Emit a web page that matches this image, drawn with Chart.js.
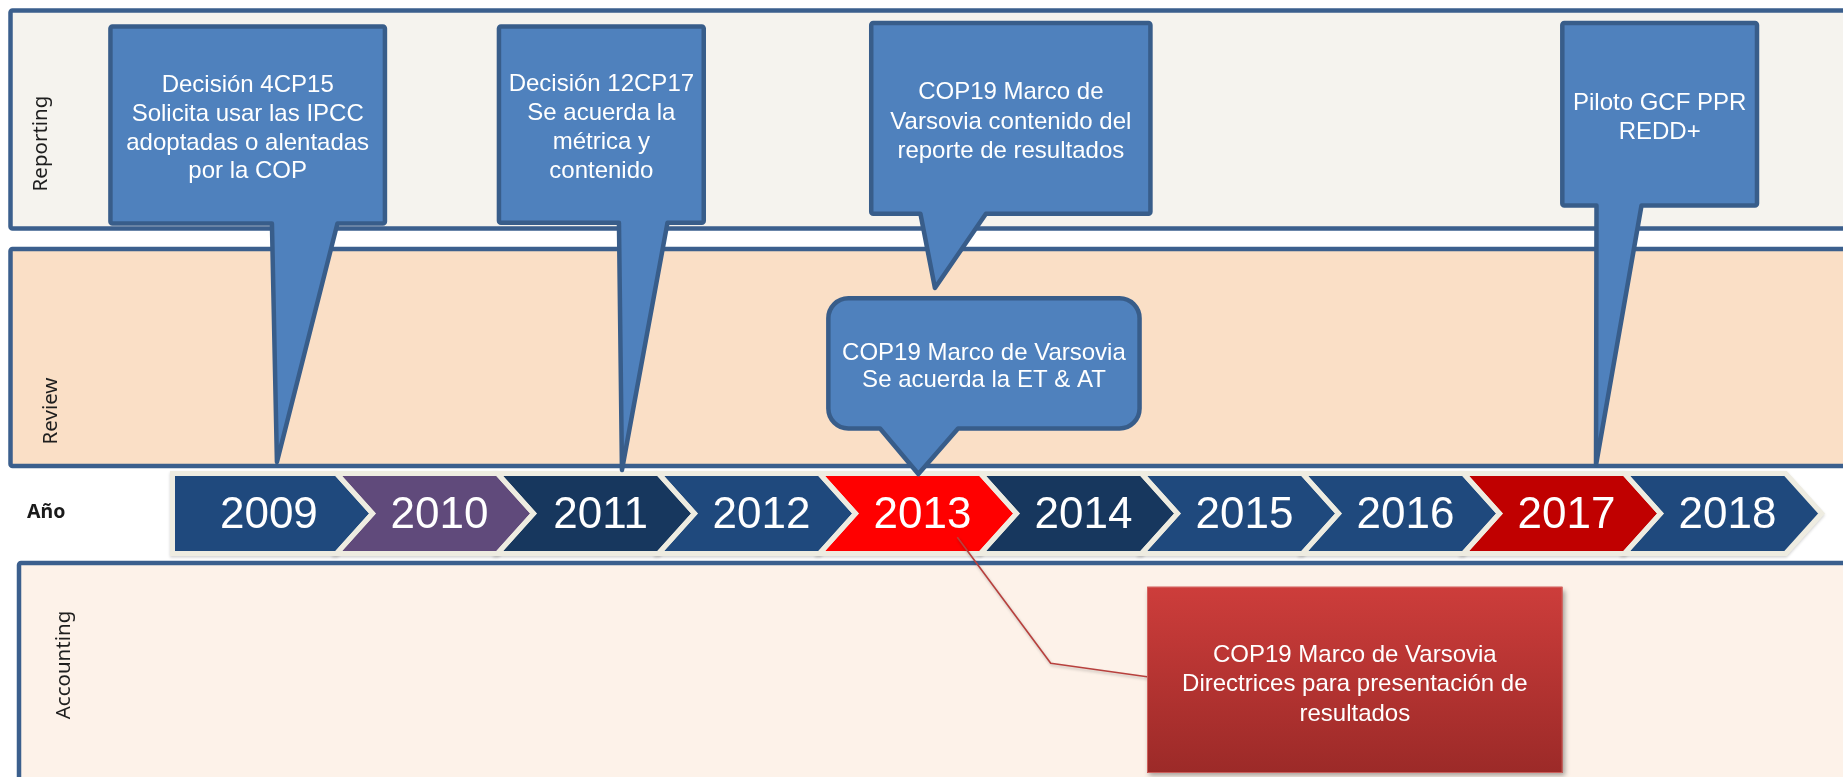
<!DOCTYPE html>
<html><head><meta charset="utf-8">
<script src="https://cdn.jsdelivr.net/npm/chart.js@4/dist/chart.umd.min.js"></script>
<style>html,body{margin:0;padding:0;background:#fff;overflow:hidden}canvas{display:block}</style>
</head><body>
<canvas id="c" width="1843" height="777" style="width:1843px;height:777px"></canvas>
<script>
// ---------- DATA ----------
const years = [2009, 2010, 2011, 2012, 2013, 2014, 2015, 2016, 2017, 2018];
const yearColors = ['#1f497d', '#604a7b', '#17375e', '#1f497d', '#ff0000', '#17375e', '#1f497d', '#1f497d', '#c00000', '#1f497d'];
const laneNames = ['Reporting', 'Review', 'Accounting'];
const rowLabel = 'Año';
const eventYears = [2009.63, 2011.773, 2013.717, 2013.614, 2017.823];
const eventLanes = ['Reporting', 'Reporting', 'Reporting', 'Review', 'Reporting'];
const eventTexts = [
  ['Decisión 4CP15', 'Solicita usar las IPCC', 'adoptadas o alentadas', 'por la COP'],
  ['Decisión 12CP17', 'Se acuerda la', 'métrica y', 'contenido'],
  ['COP19 Marco de', 'Varsovia contenido del', 'reporte de resultados'],
  ['COP19 Marco de Varsovia', 'Se acuerda la ET & AT'],
  ['Piloto GCF PPR', 'REDD+']
];
const accountingYear = 2013.856;
const accountingText = ['COP19 Marco de Varsovia', 'Directrices para presentación de', 'resultados'];

// ---------- LAYOUT / STYLE ----------
const X_MIN = 2009 - 175.5 / 161, X_MAX = 2009 + (1843 - 175.5) / 161;
const bandStyle = {
  Reporting:  {top: 10.5, bottom: 228.5, left: 10.5, fill: '#f5f3ee', labelX: 47,   labelY: 143.5},
  Review:     {top: 249,  bottom: 466,   left: 10.5, fill: '#fadfc6', labelX: 57.3, labelY: 411},
  Accounting: {top: 563,  bottom: 820,   left: 19,   fill: '#fdf2e9', labelX: 69.7, labelY: 665}
};
const chev = {top: 473.5, bottom: 553.5, depth: 36, firstInset: 3, labelOff: 0.64, firstLabelOff: 0.58, baseline: 528};
const calloutLayout = [
  {box: [-166.5, 108], top: 26.5, bottom: 223.5, base: [-5, 60.5], tipY: 462, r: 2, lh: 28.9},
  {box: [-123, 81.8], top: 26.5, bottom: 222.8, base: [-3, 45.5], tipY: 470, r: 2, lh: 28.9},
  {box: [-63.7, 215.5], top: 23, bottom: 213.8, base: [-14.5, 51], tipY: 288, r: 2, lh: 29.1},
  {box: [-90, 221.2], top: 298.3, bottom: 428.5, base: [-38.3, 39.7], tipY: 474, r: 20, lh: 27.5},
  {box: [-33.7, 161], top: 23, bottom: 205.5, base: [0.5, 45.5], tipY: 465, r: 2, lh: 29.5}
];
const accLayout = {startY: 537.3, bend: [93.4, 663.3], box: [189.7, 605.3], top: 586.7, bottom: 773, endY: 676.7, lh: 29.5};

const timelinePlugin = {
  id: 'timeline',
  beforeDatasetsDraw(chart) {
    const ctx = chart.ctx, xs = chart.scales.x, ys = chart.scales.y;
    const X = v => xs.getPixelForValue(v), Y = v => ys.getPixelForValue(v);
    ctx.save();
    // Bands
    laneNames.forEach(n => {
      const b = bandStyle[n];
      ctx.beginPath();
      ctx.roundRect(b.left, Y(b.top), 1900 - b.left, Y(b.bottom) - Y(b.top), 2);
      ctx.fillStyle = b.fill; ctx.fill();
      ctx.lineWidth = 4.5; ctx.strokeStyle = '#3b5f8d'; ctx.stroke();
      ctx.save();
      ctx.translate(b.labelX, Y(b.labelY));
      ctx.rotate(-Math.PI / 2);
      ctx.font = '20.5px "Noto Sans", sans-serif';
      ctx.fillStyle = '#1e1e1e'; ctx.textAlign = 'center'; ctx.textBaseline = 'alphabetic';
      ctx.fillText(n, 0, 0);
      ctx.restore();
    });
    // Row label
    ctx.font = 'bold 19.5px "Noto Sans", sans-serif';
    ctx.fillStyle = '#1a1a1a'; ctx.textAlign = 'left'; ctx.textBaseline = 'alphabetic';
    ctx.fillText(rowLabel, 27, 518.3);

    // Chevrons
    const T = Y(chev.top), B = Y(chev.bottom), M = (T + B) / 2, d = chev.depth;
    const paths = years.map((yr, i) => {
      const L = X(yr), R = X(yr + 1);
      const p = new Path2D();
      if (i === 0) {
        p.moveTo(L - chev.firstInset, T); p.lineTo(R, T); p.lineTo(R + d, M); p.lineTo(R, B); p.lineTo(L - chev.firstInset, B); p.closePath();
      } else {
        p.moveTo(L, T); p.lineTo(R, T); p.lineTo(R + d, M); p.lineTo(R, B); p.lineTo(L, B); p.lineTo(L + d, M); p.closePath();
      }
      return p;
    });
    ctx.save();
    ctx.shadowColor = 'rgba(0,0,0,0.18)'; ctx.shadowBlur = 3; ctx.shadowOffsetY = 1.5;
    paths.forEach((p) => { ctx.fillStyle = '#eeece1'; ctx.lineWidth = 5; ctx.strokeStyle = '#eeece1'; ctx.lineJoin = 'miter'; ctx.stroke(p); });
    ctx.restore();
    paths.forEach((p, i) => { ctx.fillStyle = yearColors[i]; ctx.fill(p); });
    paths.forEach(p => { ctx.lineWidth = 5; ctx.strokeStyle = '#eeece1'; ctx.lineJoin = 'miter'; ctx.stroke(p); });
    ctx.font = '44px "Liberation Sans", Arial, sans-serif';
    ctx.fillStyle = '#ffffff'; ctx.textAlign = 'center'; ctx.textBaseline = 'alphabetic';
    years.forEach((yr, i) => {
      ctx.fillText(String(yr), X(yr + (i === 0 ? chev.firstLabelOff : chev.labelOff)), chev.baseline);
    });

    // Callouts
    eventYears.forEach((ev, k) => {
      const c = calloutLayout[k];
      const tx = X(ev), ty = Y(c.tipY);
      const l = tx + c.box[0], r = tx + c.box[1], t = Y(c.top), b = Y(c.bottom), rr = c.r;
      const bl = tx + c.base[0], br = tx + c.base[1];
      ctx.beginPath();
      ctx.moveTo(l + rr, t);
      ctx.lineTo(r - rr, t); ctx.arcTo(r, t, r, t + rr, rr);
      ctx.lineTo(r, b - rr); ctx.arcTo(r, b, r - rr, b, rr);
      ctx.lineTo(br, b); ctx.lineTo(tx, ty); ctx.lineTo(bl, b);
      ctx.lineTo(l + rr, b); ctx.arcTo(l, b, l, b - rr, rr);
      ctx.lineTo(l, t + rr); ctx.arcTo(l, t, l + rr, t, rr);
      ctx.closePath();
      ctx.fillStyle = '#4f81bd'; ctx.fill();
      ctx.lineWidth = 4.5; ctx.strokeStyle = '#385d8a'; ctx.lineJoin = 'round'; ctx.stroke();
      const lines = eventTexts[k];
      const cy = (t + b) / 2 + 1.5;
      ctx.font = '24px "Liberation Sans", Arial, sans-serif';
      ctx.fillStyle = '#ffffff'; ctx.textAlign = 'center'; ctx.textBaseline = 'alphabetic';
      lines.forEach((s, j) => {
        ctx.fillText(s, (l + r) / 2, cy - (lines.length - 1) / 2 * c.lh + j * c.lh + 8.6);
      });
    });

    // Accounting event with connector
    const sx = X(accountingYear);
    const a = accLayout;
    ctx.save();
    ctx.shadowColor = 'rgba(0,0,0,0.25)'; ctx.shadowBlur = 3; ctx.shadowOffsetX = 1; ctx.shadowOffsetY = 2;
    ctx.beginPath();
    ctx.moveTo(sx, Y(a.startY)); ctx.lineTo(sx + a.bend[0], Y(a.bend[1])); ctx.lineTo(sx + a.box[0], Y(a.endY));
    ctx.strokeStyle = '#b8403d'; ctx.lineWidth = 1.6; ctx.stroke();
    const bx = sx + a.box[0], bw = a.box[1] - a.box[0], bt = Y(a.top), bh = Y(a.bottom) - Y(a.top);
    const g = ctx.createLinearGradient(0, bt, 0, bt + bh);
    g.addColorStop(0, '#cd3d3b'); g.addColorStop(1, '#9c2a28');
    ctx.shadowBlur = 5; ctx.shadowOffsetX = 2; ctx.shadowOffsetY = 3; ctx.shadowColor = 'rgba(0,0,0,0.35)';
    ctx.fillStyle = g; ctx.fillRect(bx, bt, bw, bh);
    ctx.restore();
    ctx.strokeStyle = 'rgba(215,110,105,0.8)'; ctx.lineWidth = 1; ctx.strokeRect(bx + 0.5, bt + 0.5, bw - 1, bh - 1);
    ctx.font = '24px "Liberation Sans", Arial, sans-serif';
    ctx.fillStyle = '#ffffff'; ctx.textAlign = 'center';
    const acy = bt + bh / 2 + 2.8;
    accountingText.forEach((s, j) => {
      ctx.fillText(s, bx + bw / 2, acy - (accountingText.length - 1) / 2 * a.lh + j * a.lh + 8.6);
    });
    ctx.restore();
  }
};

new Chart(document.getElementById('c'), {
  type: 'scatter',
  data: {
    datasets: [{
      label: 'Año',
      data: years.map(y => ({x: y + 0.5, y: 513.5})),
      pointRadius: 0, pointHoverRadius: 0, showLine: false
    }]
  },
  options: {
    responsive: false, animation: false, devicePixelRatio: 1,
    layout: {padding: 0},
    events: [],
    plugins: {legend: {display: false}, tooltip: {enabled: false}},
    scales: {
      x: {type: 'linear', min: X_MIN, max: X_MAX, display: false},
      y: {type: 'linear', min: 0, max: 777, reverse: true, display: false}
    }
  },
  plugins: [timelinePlugin]
});
</script>
</body></html>
